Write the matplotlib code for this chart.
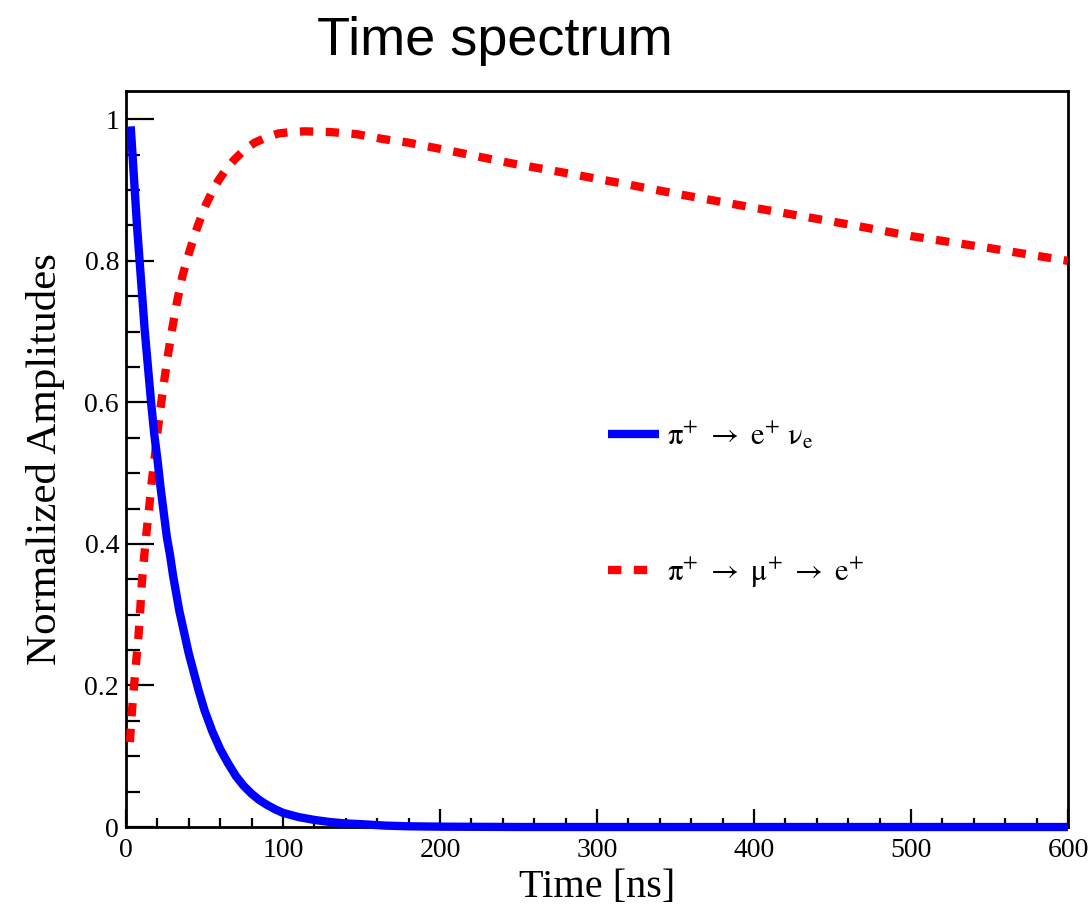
import numpy as np
import matplotlib
matplotlib.use("Agg")
import matplotlib.pyplot as plt
from matplotlib.ticker import MultipleLocator, FormatStrFormatter

plt.rcParams['font.family'] = 'serif'
plt.rcParams['font.serif'] = ['Liberation Serif', 'DejaVu Serif']
plt.rcParams['mathtext.fontset'] = 'stix'

# pi -> e nu (direct decay)
t_enu = [3, 4, 5, 6, 7, 8, 9, 10, 11, 12, 13, 14, 15, 16, 18, 20, 22, 24, 26,
         28, 30, 32, 34, 36, 38, 40, 43, 46, 50, 55, 60, 65, 70, 75, 80, 85,
         90, 95, 100, 110, 120, 130, 140, 150, 165, 180, 200, 250, 300, 400,
         500, 600]
amp_enu = [0.99, 0.955, 0.92, 0.885, 0.85, 0.82, 0.79, 0.76, 0.73, 0.70, 0.675,
           0.65, 0.625, 0.60, 0.555, 0.52, 0.48, 0.445, 0.41, 0.385, 0.355,
           0.33, 0.305, 0.285, 0.265, 0.245, 0.22, 0.195, 0.165, 0.135, 0.11,
           0.09, 0.072, 0.058, 0.047, 0.038, 0.031, 0.025, 0.02, 0.014, 0.01,
           0.007, 0.005, 0.004, 0.002, 0.001, 0.0005, 0.0, 0.0, 0.0, 0.0, 0.0]

# pi -> mu -> e (decay chain)
t_mue = [2.5, 3.6, 5, 6.4, 7.9, 9, 10, 11.5, 13, 14.8, 16.4, 18.4, 20.2, 22.3,
         24.5, 26.8, 29.5, 32.5, 36, 40.5, 45.5, 51, 55, 59, 64, 69, 75, 82,
         90, 97, 105, 114, 130, 147, 164, 180, 212, 245, 278, 317, 350, 400,
         464, 500, 550, 600]
amp_mue = [0.12, 0.158, 0.196, 0.232, 0.268, 0.304, 0.342, 0.38, 0.415, 0.452,
           0.488, 0.524, 0.561, 0.597, 0.633, 0.668, 0.705, 0.742, 0.779,
           0.814, 0.848, 0.88, 0.898, 0.914, 0.93, 0.943, 0.956, 0.967, 0.975,
           0.98, 0.982, 0.983, 0.982, 0.979, 0.972, 0.967, 0.953, 0.938, 0.925,
           0.909, 0.895, 0.875, 0.85, 0.835, 0.818, 0.80]

labels = [r'$\mathrm{\pi^{+}\ \rightarrow\ e^{+}\ \nu_{e}}$',
          r'$\mathrm{\pi^{+}\ \rightarrow\ \mu^{+}\ \rightarrow\ e^{+}}$']

fig = plt.figure(figsize=(10.88, 9.11), dpi=100)
ax = fig.add_axes([0.1158, 0.0922, 0.8658, 0.8079])

ax.plot(t_enu, amp_enu, color='#0000ff', lw=6, solid_capstyle='butt',
        zorder=4, clip_on=False, label=labels[0])
ax.plot(t_mue, amp_mue, color='#ff0000', lw=6, linestyle=(0, (1.6, 1.5)),
        zorder=3, label=labels[1])

ax.set_xlim(0, 600)
ax.set_ylim(0, 1.04)
ax.xaxis.set_major_locator(MultipleLocator(100))
ax.xaxis.set_minor_locator(MultipleLocator(20))
ax.yaxis.set_major_locator(MultipleLocator(0.2))
ax.yaxis.set_minor_locator(MultipleLocator(0.05))
ax.yaxis.set_major_formatter(FormatStrFormatter('%g'))

for s in ax.spines.values():
    s.set_linewidth(2)
ax.tick_params(axis='x', which='major', direction='in', length=13, width=1.6,
               labelsize=20, pad=8)
ax.tick_params(axis='x', which='minor', direction='in', length=6.5, width=1.6)
ax.tick_params(axis='y', which='major', direction='in', length=20, width=1.6,
               labelsize=20, pad=5)
ax.tick_params(axis='y', which='minor', direction='in', length=10, width=1.6)

ax.set_xlabel('Time [ns]', fontsize=29, labelpad=4)
ax.set_ylabel('Normalized Amplitudes', fontsize=31, labelpad=14)

ax.legend(loc='center left', bbox_to_anchor=(0.512, 0.4375), frameon=False,
          fontsize=22, handlelength=1.67, handletextpad=0.25, labelspacing=3.4,
          borderpad=0, borderaxespad=0)

fig.text(0.455, 0.955, 'Time spectrum', family='Liberation Sans', fontsize=39,
         ha='center', va='center')

fig.savefig('out.png', dpi=100)
